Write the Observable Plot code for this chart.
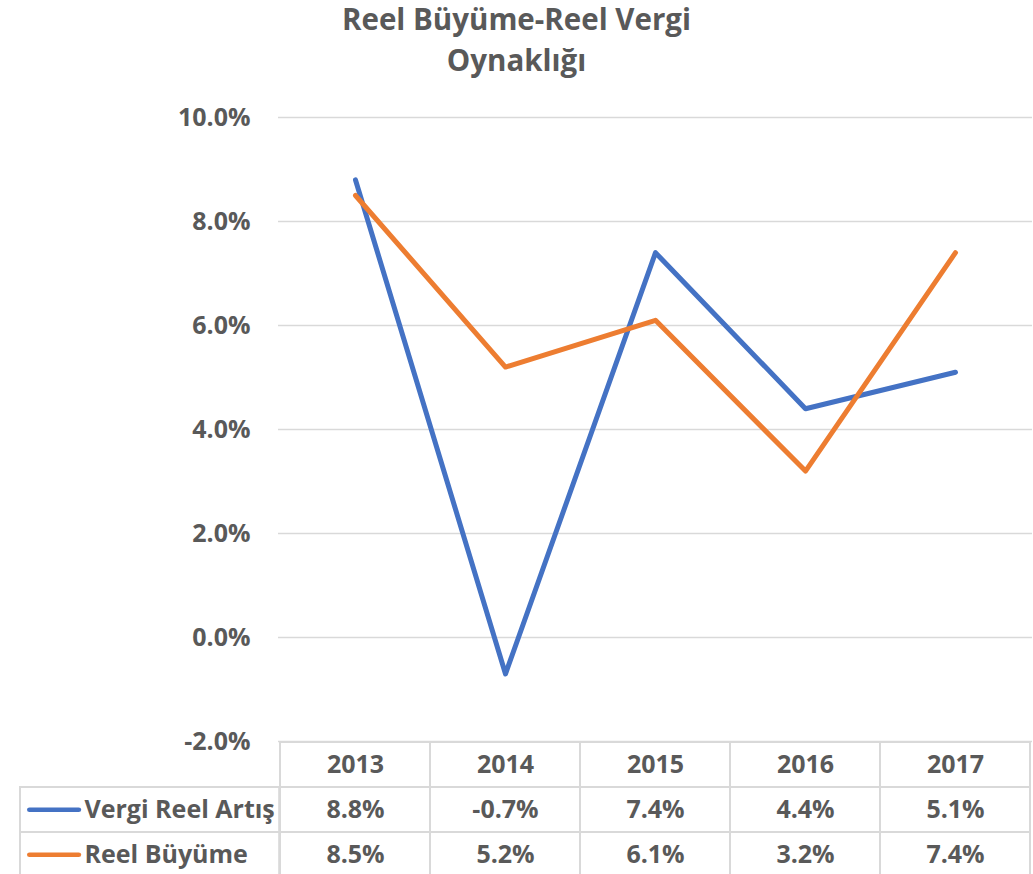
<!DOCTYPE html>
<html><head><meta charset="utf-8">
<script src="https://cdn.jsdelivr.net/npm/d3@7"></script>
<script src="https://cdn.jsdelivr.net/npm/@observablehq/plot@0.6"></script>
<style>
body{margin:0;background:#fff;width:1033px;height:874px;position:relative;overflow:hidden;font-family:"Open Sans",sans-serif;}
#title{position:absolute;left:0;top:-2px;width:1033px;text-align:center;font-weight:700;font-size:29.5px;line-height:41px;color:#595959;}
#chart{position:absolute;left:0;top:90px;}
#table{position:absolute;left:0;top:741px;}
</style></head><body>
<div id="title">Reel Büyüme-Reel Vergi<br>Oynaklığı</div>
<div id="chart"></div><div id="table"></div>
<script>
const years = ["2013", "2014", "2015", "2016", "2017"];
const seriesNames = ["Vergi Reel Artış", "Reel Büyüme"];
const vergiReelArtis = [8.8, -0.7, 7.4, 4.4, 5.1];
const reelBuyume = [8.5, 5.2, 6.1, 3.2, 7.4];
const yTicks = [-2, 0, 2, 4, 6, 8, 10];
const colors = ["#4472C4", "#ED7D31"];

const seriesValues = [vergiReelArtis, reelBuyume];
const rows = seriesNames.flatMap((s, si) => years.map((y, i) => ({series: s, year: y, value: seriesValues[si][i]})));
const fmt = d => d.toFixed(1) + "%";
const textColor = "#595959";
const gridColor = "#d9d9d9";

const W = 1033, ML = 278, MR = 1;
const bw = (W - ML - MR) / years.length;

const chart = Plot.plot({
  width: W, height: 670,
  marginLeft: ML, marginRight: MR, marginTop: 27, marginBottom: 19,
  style: {fontFamily: "Open Sans", background: "transparent", color: textColor},
  x: {type: "band", domain: years, padding: 0, axis: null},
  y: {domain: [-2, 10], axis: null},
  color: {domain: seriesNames, range: colors},
  marks: [
    Plot.gridY(yTicks, {stroke: gridColor, strokeOpacity: 1, strokeWidth: 1.6}),
    Plot.text(yTicks, {y: d => d, frameAnchor: "left", dx: -28, textAnchor: "end", text: fmt, fontSize: 25, fontWeight: "bold", fill: textColor}),
    Plot.line(rows, {x: "year", y: "value", z: "series", stroke: "series", strokeWidth: 5, strokeLinecap: "round", strokeLinejoin: "round"})
  ]
});
document.getElementById("chart").append(chart);

const headerKey = "header";
const tableRows = [headerKey, ...seriesNames];
const headerCells = years.map(y => ({row: headerKey, year: y}));

const table = Plot.plot({
  width: W, height: 133,
  marginLeft: ML, marginRight: MR, marginTop: 0, marginBottom: 0,
  style: {fontFamily: "Open Sans", background: "transparent", color: textColor, overflow: "visible"},
  x: {type: "band", domain: years, padding: 0, axis: null},
  y: {type: "band", domain: tableRows, range: [0.5, 135.5], padding: 0, axis: null},
  color: {domain: seriesNames, range: colors},
  marks: [
    Plot.cell(headerCells, {x: "year", y: "row", fill: "none", stroke: gridColor, strokeWidth: 2}),
    Plot.cell(rows, {x: "year", y: "series", fill: "none", stroke: gridColor, strokeWidth: 2}),
    Plot.cell(seriesNames, {x: () => years[0], y: d => d, fill: "none", stroke: gridColor, strokeWidth: 2, insetLeft: -(ML - 18), insetRight: bw}),
    Plot.cell(seriesNames, {x: () => years[0], y: d => d, fill: d => d, insetLeft: -(ML - 25), insetRight: bw + (ML - 80), insetTop: 20.5, insetBottom: 20, rx: 2.5}),
    Plot.text(seriesNames, {y: d => d, frameAnchor: "left", dx: -(ML - 84), textAnchor: "start", text: d => d, fontSize: 25, fontWeight: "bold", fill: textColor}),
    Plot.text(headerCells, {x: "year", y: "row", text: "year", fontSize: 25, fontWeight: "bold", fill: textColor}),
    Plot.text(rows, {x: "year", y: "series", text: d => fmt(d.value), fontSize: 25, fontWeight: "bold", fill: textColor})
  ]
});
document.getElementById("table").append(table);
</script>
</body></html>
